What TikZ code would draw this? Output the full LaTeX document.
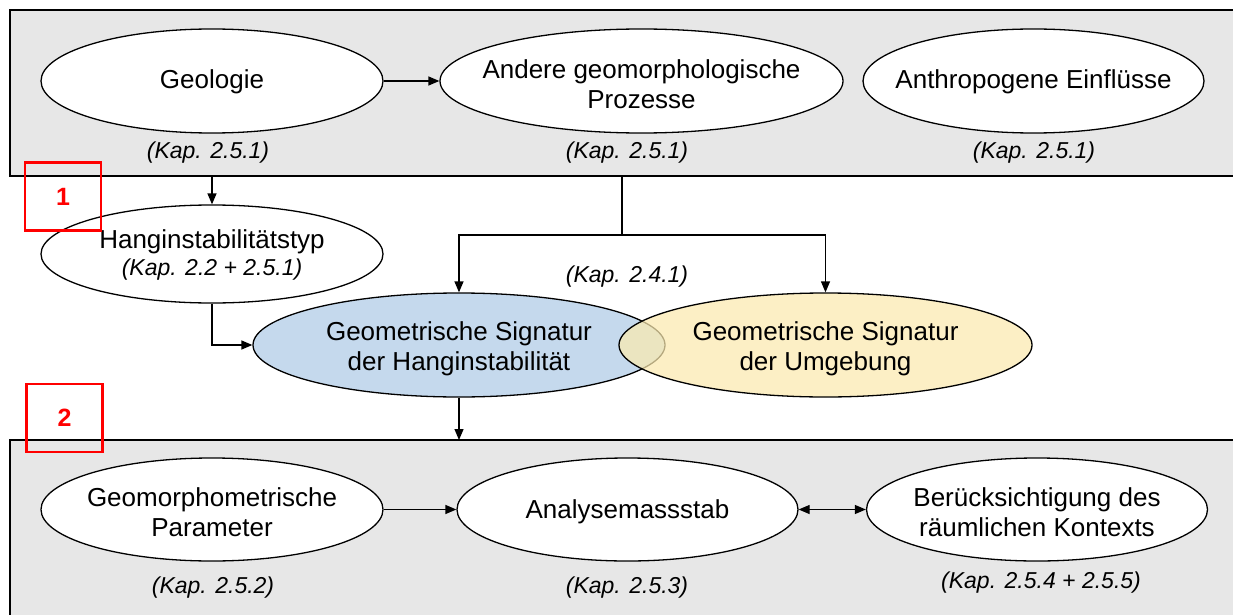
\documentclass[tikz,border=0pt]{standalone}
\usepackage{fontspec}
\setmainfont{Liberation Sans}
\usetikzlibrary{shapes.geometric,arrows.meta}
\definecolor{panelgray}{HTML}{E7E7E7}
\definecolor{sigblue}{HTML}{C5D9ED}
\definecolor{sigyellow}{HTML}{FBEAB0}
\tikzset{
  panel/.style={draw=black,line width=1.6pt,fill=panelgray},
  ell/.style={ellipse,draw=black,line width=1.3pt,fill=white,inner sep=0pt},
  txt/.style={align=center,inner sep=0pt,font=\fontsize{26}{30}\selectfont},
  kap/.style={font=\fontsize{23}{26}\selectfont\itshape,inner sep=0pt},
  arr/.style={line width=1.3pt,-{Triangle[length=11pt,width=9pt]}},
  darr/.style={line width=1.3pt,{Triangle[length=11pt,width=9pt]}-{Triangle[length=11pt,width=9pt]}},
  ln/.style={line width=1.3pt},
  redbox/.style={draw=red,line width=2.8pt,minimum width=76pt,minimum height=68pt,inner sep=0pt,
     text=red,font=\fontsize{25}{28}\selectfont\bfseries}
}
\begin{document}
\begin{tikzpicture}[x=1pt,y=-1pt]
\useasboundingbox (0,0) rectangle (1233,615);
\clip (0,0) rectangle (1233,615);
\fill[white] (0,0) rectangle (1233,615);
% panels
\draw[panel] (10,10) rectangle (1245,176);
\draw[panel] (10,440) rectangle (1245,630);
% top row
\node[ell,minimum width=342pt,minimum height=104pt] (geo) at (212,81) {};
\node[txt] (geot) at ([yshift=-1pt]geo.center) {Geologie};
\node[ell,minimum width=403pt,minimum height=104pt] (andere) at (641.5,81) {};
\node[txt] (anderet) at ([yshift=-3pt]andere.center) {Andere geomorphologische\\Prozesse};
\node[ell,minimum width=341pt,minimum height=104pt] (anthro) at (1033.5,81) {};
\node[txt] (anthrot) at ([yshift=-1pt]anthro.center) {Anthropogene Einflüsse};
\node[kap] (k1) at (208,153) {(Kap. 2.5.1)};
\node[kap] (k2) at (627,153) {(Kap. 2.5.1)};
\node[kap] (k3) at (1034,153) {(Kap. 2.5.1)};
\draw[arr] (geo) -- (andere);
% Hanginstabilitaetstyp
\node[ell,minimum width=342pt,minimum height=98pt] (hang) at (212,254) {};
\node[txt] (hangt) at ([yshift=-1pt]hang.center)
  {Hanginstabilitätstyp\\[-3pt]{\fontsize{23}{26}\selectfont\itshape (Kap. 2.2 + 2.5.1)}};
\coordinate (geoout) at (212,176);
\draw[arr] (geoout) -- (hang.north);
% signature ellipses
\node[ell,fill=sigblue,minimum width=412pt,minimum height=104pt] (blue) at (459,345) {};
\node[txt] (bluet) at ([yshift=-4pt]blue.center) {Geometrische Signatur\\der Hanginstabilität};
\node[ellipse,draw=black,line width=1.3pt,fill=sigyellow,fill opacity=0.72,
  minimum width=413pt,minimum height=104pt,inner sep=0pt] (yellow) at (825.5,345) {};
\node[txt] (yellowt) at ([yshift=-4pt]yellow.center) {Geometrische Signatur\\der Umgebung};
\coordinate (andout) at (622,176);
\coordinate (split) at (622,235);
\draw[ln] (andout) -- (split);
\draw[arr] (split) -| (blue.north);
\draw[arr] (split) -| (yellow.north);
\node[kap] (k241) at (627,277) {(Kap. 2.4.1)};
\draw[arr] (hang.south) |- (blue.west);
\coordinate (boxin) at (459,440);
\draw[arr] (blue.south) -- (boxin);
% bottom row
\node[ell,minimum width=342pt,minimum height=103pt] (geom) at (212,509.5) {};
\node[txt] (geomt) at ([yshift=-3pt]geom.center) {Geomorphometrische\\Parameter};
\node[ell,minimum width=341pt,minimum height=103pt] (analyse) at (627.5,509.5) {};
\node[txt] (analyset) at ([yshift=-2pt]analyse.center) {Analysemassstab};
\node[ell,minimum width=341pt,minimum height=103pt] (beruck) at (1037,509.5) {};
\node[txt] (beruckt) at ([yshift=-3pt]beruck.center) {Berücksichtigung des\\räumlichen Kontexts};
\draw[arr] (geom) -- (analyse);
\draw[darr] (analyse) -- (beruck);
\node[kap] (k252) at (213,588) {(Kap. 2.5.2)};
\node[kap] (k253) at (627,588) {(Kap. 2.5.3)};
\node[kap] (k254) at (1041,583) {(Kap. 2.5.4 + 2.5.5)};
% red markers
\node[redbox] (r1) at (63,196.5) {1};
\node[redbox] (r2) at (64.5,418) {2};
\end{tikzpicture}
\end{document}
